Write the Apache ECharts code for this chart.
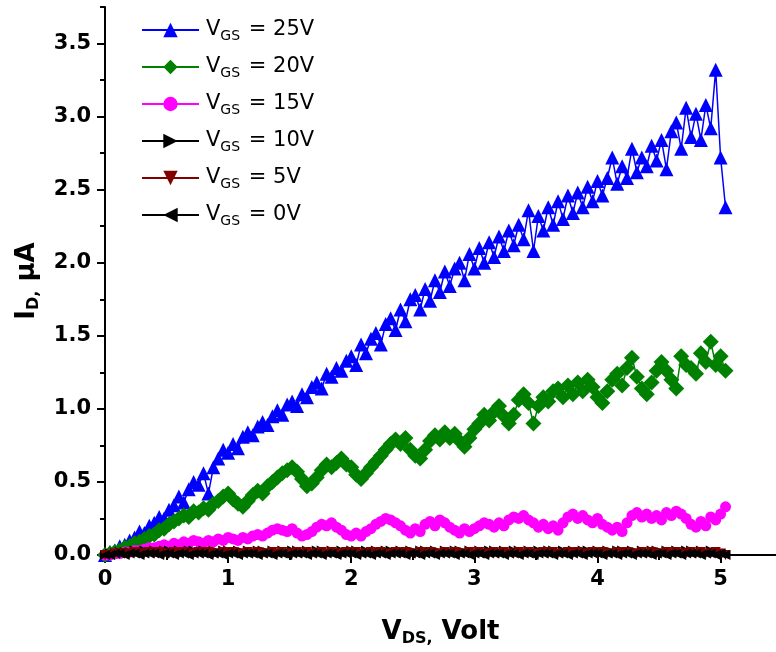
<!DOCTYPE html>
<html>
<head>
<meta charset="utf-8">
<script src="https://cdn.jsdelivr.net/npm/echarts@6/dist/echarts.min.js"></script>
<style>
  html, body { margin: 0; padding: 0; background: #ffffff; }
  #chart { width: 776px; height: 652px; }
</style>
</head>
<body>
<div id="chart"></div>
<script>
// Drain-source sweep, V
const vds = [
  0, 0.04, 0.08, 0.12, 0.16, 0.2, 0.24, 0.28, 0.32, 0.36,
  0.4, 0.44, 0.48, 0.52, 0.56, 0.6, 0.64, 0.68, 0.72, 0.76,
  0.8, 0.84, 0.88, 0.92, 0.96, 1, 1.04, 1.08, 1.12, 1.16,
  1.2, 1.24, 1.28, 1.32, 1.36, 1.4, 1.44, 1.48, 1.52, 1.56,
  1.6, 1.64, 1.68, 1.72, 1.76, 1.8, 1.84, 1.88, 1.92, 1.96,
  2, 2.04, 2.08, 2.12, 2.16, 2.2, 2.24, 2.28, 2.32, 2.36,
  2.4, 2.44, 2.48, 2.52, 2.56, 2.6, 2.64, 2.68, 2.72, 2.76,
  2.8, 2.84, 2.88, 2.92, 2.96, 3, 3.04, 3.08, 3.12, 3.16,
  3.2, 3.24, 3.28, 3.32, 3.36, 3.4, 3.44, 3.48, 3.52, 3.56,
  3.6, 3.64, 3.68, 3.72, 3.76, 3.8, 3.84, 3.88, 3.92, 3.96,
  4, 4.04, 4.08, 4.12, 4.16, 4.2, 4.24, 4.28, 4.32, 4.36,
  4.4, 4.44, 4.48, 4.52, 4.56, 4.6, 4.64, 4.68, 4.72, 4.76,
  4.8, 4.84, 4.88, 4.92, 4.96, 5, 5.04
];

// Drain current, µA, for each gate voltage
const id25 = [
  0.00, 0.02, 0.03, 0.06, 0.07, 0.10, 0.12, 0.16, 0.15, 0.20,
  0.22, 0.26, 0.25, 0.31, 0.34, 0.40, 0.36, 0.45, 0.50, 0.48,
  0.56, 0.42, 0.60, 0.66, 0.72, 0.70, 0.76, 0.73, 0.81, 0.84,
  0.82, 0.88, 0.91, 0.89, 0.95, 0.99, 0.96, 1.03, 1.05, 1.02,
  1.10, 1.08, 1.15, 1.18, 1.14, 1.24, 1.22, 1.28, 1.26, 1.33,
  1.36, 1.30, 1.44, 1.38, 1.48, 1.52, 1.44, 1.58, 1.62, 1.54,
  1.68, 1.60, 1.75, 1.78, 1.68, 1.82, 1.74, 1.88, 1.80, 1.94,
  1.84, 1.96, 2.00, 1.88, 2.06, 1.96, 2.10, 2.00, 2.14, 2.04,
  2.18, 2.08, 2.22, 2.12, 2.26, 2.16, 2.36, 2.08, 2.32, 2.22,
  2.38, 2.26, 2.42, 2.30, 2.46, 2.34, 2.48, 2.38, 2.52, 2.42,
  2.56, 2.46, 2.58, 2.72, 2.54, 2.66, 2.58, 2.78, 2.62, 2.72,
  2.66, 2.80, 2.70, 2.84, 2.64, 2.90, 2.96, 2.78, 3.06, 2.86,
  3.02, 2.84, 3.08, 2.92, 3.32, 2.72, 2.38
];
const id20 = [
  0.00, 0.01, 0.02, 0.03, 0.05, 0.06, 0.08, 0.09, 0.11, 0.13,
  0.14, 0.17, 0.18, 0.21, 0.23, 0.25, 0.27, 0.26, 0.30, 0.29,
  0.32, 0.31, 0.35, 0.37, 0.40, 0.42, 0.38, 0.35, 0.33, 0.37,
  0.41, 0.44, 0.42, 0.47, 0.50, 0.53, 0.56, 0.58, 0.60, 0.57,
  0.52, 0.47, 0.49, 0.53, 0.58, 0.62, 0.60, 0.63, 0.66, 0.62,
  0.60, 0.55, 0.52, 0.56, 0.60, 0.64, 0.68, 0.72, 0.76, 0.79,
  0.76, 0.80, 0.72, 0.68, 0.66, 0.72, 0.78, 0.82, 0.79, 0.84,
  0.80, 0.83, 0.78, 0.74, 0.80, 0.86, 0.90, 0.96, 0.92, 0.98,
  1.02, 0.95, 0.90, 0.96, 1.06, 1.10, 1.04, 0.90, 1.02, 1.08,
  1.05, 1.12, 1.14, 1.08, 1.16, 1.10, 1.18, 1.12, 1.20, 1.15,
  1.08, 1.04, 1.12, 1.20, 1.24, 1.16, 1.28, 1.35, 1.22, 1.14,
  1.10, 1.18, 1.26, 1.32, 1.26, 1.20, 1.14, 1.36, 1.30, 1.28,
  1.24, 1.38, 1.32, 1.46, 1.30, 1.36, 1.26
];
const id15 = [
  0.00, 0.00, 0.01, 0.01, 0.02, 0.02, 0.03, 0.03, 0.04, 0.05,
  0.05, 0.06, 0.07, 0.06, 0.08, 0.07, 0.09, 0.08, 0.10, 0.09,
  0.08, 0.10, 0.09, 0.11, 0.10, 0.12, 0.11, 0.10, 0.12, 0.11,
  0.13, 0.14, 0.13, 0.15, 0.17, 0.18, 0.17, 0.16, 0.18, 0.15,
  0.13, 0.14, 0.16, 0.19, 0.21, 0.20, 0.22, 0.19, 0.17, 0.14,
  0.13, 0.15, 0.13, 0.16, 0.18, 0.21, 0.23, 0.25, 0.24, 0.22,
  0.20, 0.17, 0.15, 0.18, 0.16, 0.21, 0.23, 0.20, 0.24, 0.22,
  0.19, 0.17, 0.15, 0.18, 0.16, 0.18, 0.20, 0.22, 0.21, 0.19,
  0.22, 0.20, 0.24, 0.26, 0.25, 0.27, 0.24, 0.22, 0.19, 0.21,
  0.18, 0.20, 0.17, 0.22, 0.26, 0.28, 0.25, 0.27, 0.24, 0.22,
  0.25, 0.21, 0.19, 0.17, 0.19, 0.16, 0.22, 0.27, 0.29, 0.26,
  0.28, 0.25, 0.27, 0.24, 0.29, 0.27, 0.30, 0.28, 0.25, 0.21,
  0.19, 0.23, 0.20, 0.26, 0.24, 0.28, 0.33
];
const id10 = [
  0.00, 0.01, 0.01, 0.02, 0.02, 0.02, 0.03, 0.02, 0.03, 0.02,
  0.03, 0.02, 0.03, 0.03, 0.02, 0.03, 0.02, 0.03, 0.03, 0.02,
  0.03, 0.02, 0.03, 0.02, 0.03, 0.03, 0.02, 0.03, 0.02, 0.03,
  0.02, 0.03, 0.03, 0.02, 0.03, 0.02, 0.03, 0.02, 0.03, 0.03,
  0.02, 0.03, 0.02, 0.03, 0.03, 0.02, 0.03, 0.02, 0.03, 0.02,
  0.03, 0.03, 0.02, 0.03, 0.02, 0.03, 0.02, 0.03, 0.03, 0.02,
  0.03, 0.02, 0.03, 0.02, 0.03, 0.03, 0.02, 0.03, 0.02, 0.03,
  0.02, 0.03, 0.03, 0.02, 0.03, 0.02, 0.03, 0.02, 0.03, 0.03,
  0.02, 0.03, 0.02, 0.03, 0.03, 0.02, 0.03, 0.02, 0.03, 0.02,
  0.03, 0.03, 0.02, 0.03, 0.02, 0.03, 0.02, 0.03, 0.03, 0.02,
  0.03, 0.02, 0.03, 0.02, 0.03, 0.03, 0.02, 0.03, 0.02, 0.03,
  0.02, 0.03, 0.03, 0.02, 0.03, 0.02, 0.03, 0.02, 0.03, 0.03,
  0.02, 0.03, 0.02, 0.03, 0.02, 0.02, 0.01
];
const id5 = [
  0.00, 0.00, 0.01, 0.01, 0.01, 0.01, 0.02, 0.01, 0.01, 0.02,
  0.01, 0.02, 0.01, 0.01, 0.02, 0.01, 0.02, 0.01, 0.01, 0.02,
  0.01, 0.02, 0.01, 0.01, 0.02, 0.01, 0.02, 0.01, 0.01, 0.02,
  0.01, 0.02, 0.01, 0.01, 0.02, 0.01, 0.02, 0.01, 0.01, 0.02,
  0.01, 0.02, 0.01, 0.01, 0.02, 0.01, 0.02, 0.01, 0.01, 0.02,
  0.01, 0.02, 0.01, 0.01, 0.02, 0.01, 0.02, 0.01, 0.01, 0.02,
  0.01, 0.02, 0.01, 0.01, 0.02, 0.01, 0.02, 0.01, 0.01, 0.02,
  0.01, 0.02, 0.01, 0.01, 0.02, 0.01, 0.02, 0.01, 0.01, 0.02,
  0.01, 0.02, 0.01, 0.01, 0.02, 0.01, 0.02, 0.01, 0.01, 0.02,
  0.01, 0.02, 0.01, 0.01, 0.02, 0.01, 0.02, 0.01, 0.01, 0.02,
  0.01, 0.02, 0.01, 0.01, 0.02, 0.01, 0.02, 0.01, 0.01, 0.02,
  0.01, 0.02, 0.01, 0.01, 0.02, 0.01, 0.02, 0.01, 0.01, 0.02,
  0.01, 0.02, 0.01, 0.01, 0.02, 0.01, 0.00
];
const id0 = [
  0.00, 0.00, 0.01, 0.01, 0.00, 0.01, 0.01, 0.00, 0.01, 0.01,
  0.01, 0.00, 0.01, 0.01, 0.00, 0.01, 0.01, 0.00, 0.01, 0.01,
  0.01, 0.00, 0.01, 0.01, 0.00, 0.01, 0.01, 0.00, 0.01, 0.01,
  0.01, 0.00, 0.01, 0.01, 0.00, 0.01, 0.01, 0.00, 0.01, 0.01,
  0.01, 0.00, 0.01, 0.01, 0.00, 0.01, 0.01, 0.00, 0.01, 0.01,
  0.01, 0.00, 0.01, 0.01, 0.00, 0.01, 0.01, 0.00, 0.01, 0.01,
  0.01, 0.00, 0.01, 0.01, 0.00, 0.01, 0.01, 0.00, 0.01, 0.01,
  0.01, 0.00, 0.01, 0.01, 0.00, 0.01, 0.01, 0.00, 0.01, 0.01,
  0.01, 0.00, 0.01, 0.01, 0.00, 0.01, 0.01, 0.00, 0.01, 0.01,
  0.01, 0.00, 0.01, 0.01, 0.00, 0.01, 0.01, 0.00, 0.01, 0.01,
  0.01, 0.00, 0.01, 0.01, 0.00, 0.01, 0.01, 0.00, 0.01, 0.01,
  0.01, 0.00, 0.01, 0.01, 0.00, 0.01, 0.01, 0.00, 0.01, 0.01,
  0.01, 0.00, 0.01, 0.01, 0.00, 0.01, 0.00
];

const gateVoltages = ['25V', '20V', '15V', '10V', '5V', '0V'];
const xMajorTicks = [0, 1, 2, 3, 4, 5];
const xMinorTicks = [0.5, 1.5, 2.5, 3.5, 4.5];
const yMajorTicks = [0, 0.5, 1, 1.5, 2, 2.5, 3, 3.5];
const yMinorTicks = [0.25, 0.75, 1.25, 1.75, 2.25, 2.75, 3.25, 3.75];

const X_MAX = 5.45;
const Y_MAX = 3.75;

const currents = [id25, id20, id15, id10, id5, id0];
const looks = [
  { color: '#0000ff', symbol: 'triangle', size: 14, rotate: 0 },
  { color: '#008000', symbol: 'diamond', size: 16, rotate: 0 },
  { color: '#ff00ff', symbol: 'circle', size: 11, rotate: 0 },
  { color: '#000000', symbol: 'triangle', size: 10, rotate: -90 },
  { color: '#800000', symbol: 'triangle', size: 10, rotate: 180 },
  { color: '#000000', symbol: 'triangle', size: 10, rotate: 90 }
];

const seriesName = v => 'VGS = ' + v;

const series = gateVoltages.map((v, k) => ({
  name: seriesName(v),
  type: 'line',
  xAxisIndex: 0,
  yAxisIndex: 0,
  data: vds.map((x, i) => [x, currents[k][i]]),
  symbol: looks[k].symbol,
  symbolSize: looks[k].size,
  symbolRotate: looks[k].rotate,
  showAllSymbol: true,
  lineStyle: { color: looks[k].color, width: 1.5 },
  itemStyle: { color: looks[k].color, borderWidth: 0 },
  emphasis: { disabled: true },
  animation: false
}));

const tickFont = { fontFamily: 'DejaVu Sans', fontWeight: 'bold', fontSize: 21, color: '#000' };
const axisLine = { show: true, onZero: false, lineStyle: { color: '#000', width: 2 } };
const titleRich = {
  b: { fontFamily: 'DejaVu Sans', fontWeight: 'bold', fontSize: 26, color: '#000', lineHeight: 30 },
  s: { fontFamily: 'DejaVu Sans', fontWeight: 'bold', fontSize: 16, color: '#000', lineHeight: 16, padding: [14, 0, 0, 0] }
};

const chart = echarts.init(document.getElementById('chart'), null, { renderer: 'canvas' });
chart.setOption({
  animation: false,
  backgroundColor: '#ffffff',
  grid: { left: 105, right: 0, top: 7, bottom: 97, containLabel: false },
  legend: {
    orient: 'vertical',
    left: 141,
    top: 17,
    padding: 0,
    itemWidth: 57,
    itemHeight: 18,
    itemGap: 11,
    selectedMode: false,
    data: gateVoltages.map(seriesName),
    formatter: n => '{m|V}{s|GS}{m| = ' + n.split('= ')[1] + '}',
    textStyle: {
      rich: {
        m: { fontFamily: 'DejaVu Sans', fontSize: 21, color: '#000', lineHeight: 26, padding: [0, 0, 0, 2] },
        s: { fontFamily: 'DejaVu Sans', fontSize: 14, color: '#000', lineHeight: 14, padding: [12, 0, 0, 0] }
      }
    }
  },
  xAxis: [
    {
      type: 'value', position: 'bottom', min: 0, max: X_MAX, interval: 1,
      axisLine,
      axisTick: { show: true, length: 8, lineStyle: { color: '#000', width: 2 }, customValues: xMajorTicks },
      axisLabel: Object.assign({ margin: 14, customValues: xMajorTicks, formatter: v => String(v) }, tickFont),
      splitLine: { show: false },
      name: '{b|V}{s|DS,}{b| Volt}',
      nameLocation: 'middle',
      nameGap: 62,
      nameTextStyle: { rich: titleRich }
    },
    {
      type: 'value', position: 'bottom', min: 0, max: X_MAX, interval: 0.5,
      axisLine: { show: false },
      axisTick: { show: true, length: 5, lineStyle: { color: '#000', width: 2 }, customValues: xMinorTicks },
      axisLabel: { show: false },
      splitLine: { show: false }
    }
  ],
  yAxis: [
    {
      type: 'value', position: 'left', min: 0, max: Y_MAX, interval: 0.5,
      axisLine,
      axisTick: { show: true, length: 8, lineStyle: { color: '#000', width: 2 }, customValues: yMajorTicks },
      axisLabel: Object.assign({ margin: 14, customValues: yMajorTicks, formatter: v => v.toFixed(1) }, tickFont),
      splitLine: { show: false },
      name: '{b|I}{s|D,}{b| μA}',
      nameLocation: 'middle',
      nameGap: 63,
      nameTextStyle: { rich: titleRich }
    },
    {
      type: 'value', position: 'left', min: 0, max: Y_MAX, interval: 0.25,
      axisLine: { show: false },
      axisTick: { show: true, length: 5, lineStyle: { color: '#000', width: 2 }, customValues: yMinorTicks },
      axisLabel: { show: false },
      splitLine: { show: false }
    }
  ],
  series
});
</script>
</body>
</html>
